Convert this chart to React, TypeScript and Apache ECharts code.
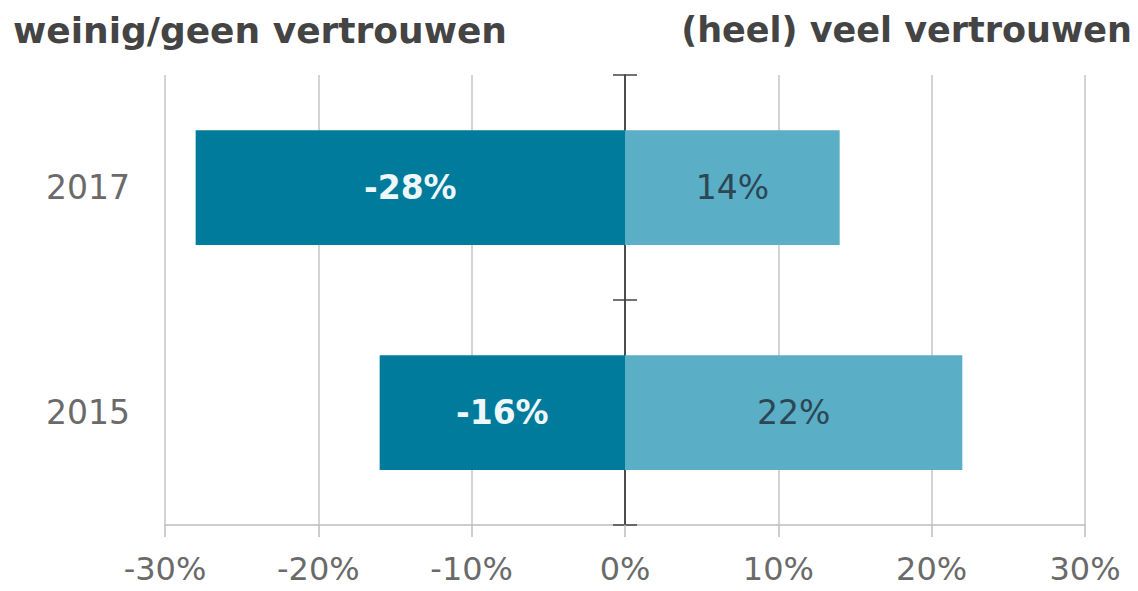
import React, { useEffect, useRef } from "react";
import * as echarts from "echarts";

const years = ["2017", "2015"];
const lowTrust = [-28, -16];
const highTrust = [14, 22];
const xTicks = { min: -30, max: 30, interval: 10 };
const leftHeader = "weinig/geen vertrouwen";
const rightHeader = "(heel) veel vertrouwen";

const FONT = "'DejaVu Sans', Verdana, sans-serif";

export default function App() {
  const ref = useRef<HTMLDivElement>(null);
  useEffect(() => {
    if (!ref.current) return;
    const chart = echarts.init(ref.current, null, { renderer: "svg" });
    const zeroAxis = (pos: string, inside: boolean) => ({
      type: "category",
      data: years,
      inverse: true,
      position: pos,
      axisLine: { show: true, onZero: true, onZeroAxisIndex: 0, lineStyle: { color: "#444", width: 1.5 } },
      axisTick: { show: true, inside, length: 12, lineStyle: { color: "#444", width: 1.5 } },
      axisLabel: { show: false },
      splitLine: { show: false },
    });
    chart.setOption({
      animation: false,
      backgroundColor: "#fff",
      textStyle: { fontFamily: FONT },
      grid: { left: 165, right: 53, top: 75, bottom: 66, containLabel: false },
      graphic: [
        {
          type: "text",
          left: 13,
          top: 12,
          style: { text: leftHeader, font: `bold 36px ${FONT}`, fill: "#444444" },
        },
        {
          type: "text",
          right: 6,
          top: 12,
          style: { text: rightHeader, font: `bold 35px ${FONT}`, fill: "#444444" },
        },
      ],
      xAxis: {
        type: "value",
        min: xTicks.min,
        max: xTicks.max,
        interval: xTicks.interval,
        axisLine: { show: true, lineStyle: { color: "#bdbdbd", width: 1.5 } },
        axisTick: { show: true, length: 12, lineStyle: { color: "#bdbdbd", width: 1.5 } },
        splitLine: { show: true, lineStyle: { color: "#c6c6c6", width: 1.5 } },
        axisLabel: {
          formatter: "{value}%",
          fontSize: 32,
          color: "#6a6a6a",
          fontFamily: FONT,
          margin: 28,
        },
      },
      yAxis: [
        {
          type: "category",
          data: years,
          inverse: true,
          position: "left",
          axisLine: { show: false, onZero: false },
          axisTick: { show: false },
          axisLabel: { fontSize: 33, color: "#6a6a6a", fontFamily: FONT, margin: 35 },
          splitLine: { show: false },
        },
        zeroAxis("left", false),
        zeroAxis("right", false),
      ],
      series: [
        {
          type: "bar",
          name: leftHeader,
          data: lowTrust,
          barWidth: "51%",
          barGap: "-100%",
          itemStyle: { color: "#007b9c" },
          label: {
            show: true,
            position: "inside",
            formatter: "{c}%",
            fontSize: 33,
            fontWeight: "bold",
            color: "#eef8fb",
            fontFamily: FONT,
          },
        },
        {
          type: "bar",
          name: rightHeader,
          data: highTrust,
          barWidth: "51%",
          barGap: "-100%",
          itemStyle: { color: "#5aaec5" },
          label: {
            show: true,
            position: "inside",
            formatter: "{c}%",
            fontSize: 33,
            color: "#2c4654",
            fontFamily: FONT,
          },
        },
      ],
    });
    return () => chart.dispose();
  }, []);
  return (
    <div
      ref={ref}
      style={{ position: "fixed", left: 0, top: 0, width: 1138, height: 591 }}
    />
  );
}
